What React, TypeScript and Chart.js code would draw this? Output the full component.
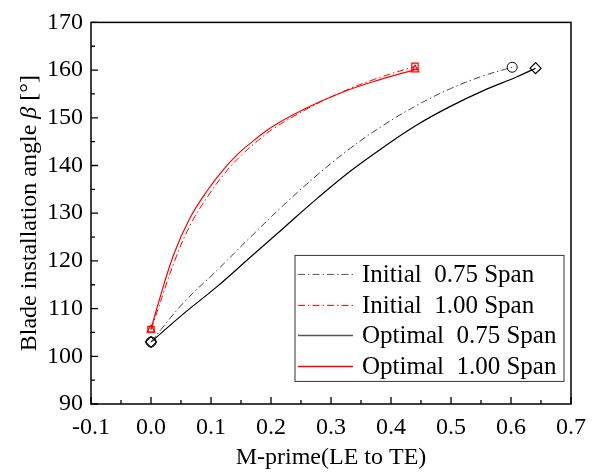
import React, { useEffect, useRef } from "react";
import { Chart, registerables } from "chart.js";

Chart.register(...registerables);

const initial075X = [0.0, 0.054, 0.11, 0.165, 0.221, 0.277, 0.332, 0.388, 0.443, 0.499, 0.554, 0.602];
const initial075Y = [103.0, 111.2, 118.0, 124.9, 131.7, 138.0, 143.6, 148.5, 152.6, 156.1, 158.8, 160.6];

const optimal075X = [0.0, 0.054, 0.11, 0.165, 0.221, 0.277, 0.332, 0.388, 0.443, 0.499, 0.554, 0.61, 0.641];
const optimal075Y = [103.0, 108.9, 114.6, 120.7, 126.9, 133.1, 138.8, 143.9, 148.5, 152.4, 155.7, 158.6, 160.4];

const initial100X = [0.0, 0.012, 0.04, 0.067, 0.095, 0.123, 0.151, 0.179, 0.206, 0.262, 0.318, 0.373, 0.44];
const initial100Y = [105.6, 110.0, 120.2, 127.9, 133.6, 138.4, 142.2, 145.3, 147.9, 152.0, 155.4, 158.1, 160.8];

const optimal100X = [0.0, 0.01, 0.038, 0.065, 0.093, 0.121, 0.149, 0.177, 0.204, 0.26, 0.316, 0.371, 0.44];
const optimal100Y = [105.6, 110.2, 121.4, 129.0, 134.6, 139.2, 142.9, 145.8, 148.3, 152.1, 155.2, 157.6, 160.1];

const xTicks = [-0.1, 0.0, 0.1, 0.2, 0.3, 0.4, 0.5, 0.6, 0.7];
const yTicks = [90, 100, 110, 120, 130, 140, 150, 160, 170];

const legendLabels = ["Initial  0.75 Span", "Initial  1.00 Span", "Optimal  0.75 Span", "Optimal  1.00 Span"];

const FONT = "'Liberation Serif', 'DejaVu Serif', serif";
const DASHDOT = [7, 3, 1.5, 3];

function pts(xs: number[], ys: number[]) {
  return xs.map((x, i) => ({ x, y: ys[i] }));
}

function endRadius(r: number) {
  return (ctx: any) => {
    const n = ctx.dataset.data.length;
    return ctx.dataIndex === 0 || ctx.dataIndex === n - 1 ? r : 0;
  };
}

const framePlugin = {
  id: "framePlugin",
  afterDraw(chart: any) {
    const { ctx, chartArea: ca, scales } = chart;
    const xs = scales.x;
    const ys = scales.y;
    ctx.save();
    ctx.strokeStyle = "#000";
    ctx.lineWidth = 1.5;
    ctx.strokeRect(ca.left, ca.top, ca.right - ca.left, ca.bottom - ca.top);
    ctx.lineWidth = 1.3;
    ctx.beginPath();
    for (let i = 0; i < xTicks.length; i++) {
      const px = xs.getPixelForValue(xTicks[i]);
      ctx.moveTo(px, ca.bottom);
      ctx.lineTo(px, ca.bottom - 7);
      if (i < xTicks.length - 1) {
        const mx = xs.getPixelForValue((xTicks[i] + xTicks[i + 1]) / 2);
        ctx.moveTo(mx, ca.bottom);
        ctx.lineTo(mx, ca.bottom - 4);
      }
    }
    for (let i = 0; i < yTicks.length; i++) {
      const py = ys.getPixelForValue(yTicks[i]);
      ctx.moveTo(ca.left, py);
      ctx.lineTo(ca.left + 7, py);
      if (i < yTicks.length - 1) {
        const my = ys.getPixelForValue((yTicks[i] + yTicks[i + 1]) / 2);
        ctx.moveTo(ca.left, my);
        ctx.lineTo(ca.left + 4, my);
      }
    }
    ctx.stroke();

    // axis titles
    ctx.fillStyle = "#000";
    ctx.font = `24px ${FONT}`;
    ctx.textAlign = "center";
    ctx.textBaseline = "alphabetic";
    ctx.fillText("M-prime(LE to TE)", (ca.left + ca.right) / 2, 464);

    ctx.save();
    ctx.translate(36, (ca.top + ca.bottom) / 2);
    ctx.rotate(-Math.PI / 2);
    const p1 = "Blade installation angle ";
    const p2 = "\u03B2";
    const p3 = " [\u00B0]";
    ctx.font = `24px ${FONT}`;
    const w1 = ctx.measureText(p1).width;
    const w3 = ctx.measureText(p3).width;
    ctx.font = `italic 24px ${FONT}`;
    const w2 = ctx.measureText(p2).width;
    const total = w1 + w2 + w3;
    let cx = -total / 2;
    ctx.textAlign = "left";
    ctx.font = `24px ${FONT}`;
    ctx.fillText(p1, cx, 0);
    cx += w1;
    ctx.font = `italic 24px ${FONT}`;
    ctx.fillText(p2, cx, 0);
    cx += w2;
    ctx.font = `24px ${FONT}`;
    ctx.fillText(p3, cx, 0);
    ctx.restore();

    // legend
    const bx = ca.left + 204;
    const by = ca.top + 233;
    const bw = 269;
    const bh = 126;
    ctx.fillStyle = "#fff";
    ctx.fillRect(bx, by, bw, bh);
    ctx.strokeStyle = "#333";
    ctx.lineWidth = 1;
    ctx.strokeRect(bx, by, bw, bh);
    const colors = ["#555", "#ff0000", "#555", "#ff0000"];
    const dashes = [DASHDOT, DASHDOT, [], []];
    const rows = [19, 50, 80, 111];
    for (let i = 0; i < 4; i++) {
      const ry = by + rows[i];
      ctx.strokeStyle = colors[i];
      ctx.lineWidth = i < 2 ? 1 : 1.5;
      ctx.setLineDash(dashes[i]);
      ctx.beginPath();
      ctx.moveTo(bx + 3, ry);
      ctx.lineTo(bx + 58, ry);
      ctx.stroke();
      ctx.setLineDash([]);
      ctx.fillStyle = "#000";
      ctx.font = `25px ${FONT}`;
      ctx.textAlign = "left";
      ctx.textBaseline = "middle";
      ctx.fillText(legendLabels[i], bx + 67, ry + 1);
    }
    ctx.restore();
  },
};

export default function App() {
  const ref = useRef<HTMLCanvasElement | null>(null);
  useEffect(() => {
    if (!ref.current) return;
    const chart = new Chart(ref.current, {
      type: "scatter",
      data: {
        datasets: [
          {
            label: legendLabels[0],
            data: pts(initial075X, initial075Y),
            showLine: true,
            borderColor: "#444",
            borderWidth: 1,
            borderDash: DASHDOT,
            tension: 0.4,
            pointStyle: "circle",
            pointRadius: endRadius(5),
            pointBorderColor: "#000",
            pointBackgroundColor: "rgba(0,0,0,0)",
            pointBorderWidth: 1,
          },
          {
            label: legendLabels[2],
            data: pts(optimal075X, optimal075Y),
            showLine: true,
            borderColor: "#000",
            borderWidth: 1.2,
            tension: 0.4,
            pointStyle: "rectRot",
            pointRadius: endRadius(5.5),
            pointBorderColor: "#000",
            pointBackgroundColor: "rgba(0,0,0,0)",
            pointBorderWidth: 1.2,
          },
          {
            label: legendLabels[1],
            data: pts(initial100X, initial100Y),
            showLine: true,
            borderColor: "#ff0000",
            borderWidth: 1,
            borderDash: DASHDOT,
            tension: 0.4,
            pointStyle: "rect",
            pointRadius: endRadius(4.5),
            pointBorderColor: "#ff0000",
            pointBackgroundColor: "rgba(0,0,0,0)",
            pointBorderWidth: 1.2,
          },
          {
            label: legendLabels[3],
            data: pts(optimal100X, optimal100Y),
            showLine: true,
            borderColor: "#ff0000",
            borderWidth: 1.2,
            tension: 0.4,
            pointStyle: "triangle",
            pointRadius: endRadius(4.5),
            pointBorderColor: "#ff0000",
            pointBackgroundColor: "rgba(0,0,0,0)",
            pointBorderWidth: 1.2,
          },
        ],
      },
      options: {
        animation: false,
        responsive: true,
        maintainAspectRatio: false,
        layout: { padding: { left: 0, top: 20, right: 26, bottom: 0 } },
        plugins: { legend: { display: false }, tooltip: { enabled: false } },
        scales: {
          x: {
            type: "linear",
            min: -0.1,
            max: 0.7,
            afterBuildTicks: (s: any) => {
              s.ticks = xTicks.map((v) => ({ value: v }));
            },
            afterFit: (s: any) => {
              s.height = 70;
            },
            grid: { display: false, drawTicks: false },
            border: { display: false },
            ticks: {
              color: "#000",
              font: { family: FONT, size: 24 },
              padding: 9,
              maxRotation: 0,
              autoSkip: false,
              callback: (v: any) => Number(v).toFixed(1),
            },
          },
          y: {
            type: "linear",
            min: 90,
            max: 170,
            afterBuildTicks: (s: any) => {
              s.ticks = yTicks.map((v) => ({ value: v }));
            },
            afterFit: (s: any) => {
              s.width = 91;
            },
            grid: { display: false, drawTicks: false },
            border: { display: false },
            ticks: {
              color: "#000",
              font: { family: FONT, size: 24 },
              padding: 8,
              autoSkip: false,
              callback: (v: any) => String(v),
            },
          },
        },
      },
      plugins: [framePlugin],
    } as any);
    return () => chart.destroy();
  }, []);
  return (
    <div style={{ position: "fixed", left: 0, top: 0, width: 597, height: 474, background: "#fff" }}>
      <canvas ref={ref} />
    </div>
  );
}
